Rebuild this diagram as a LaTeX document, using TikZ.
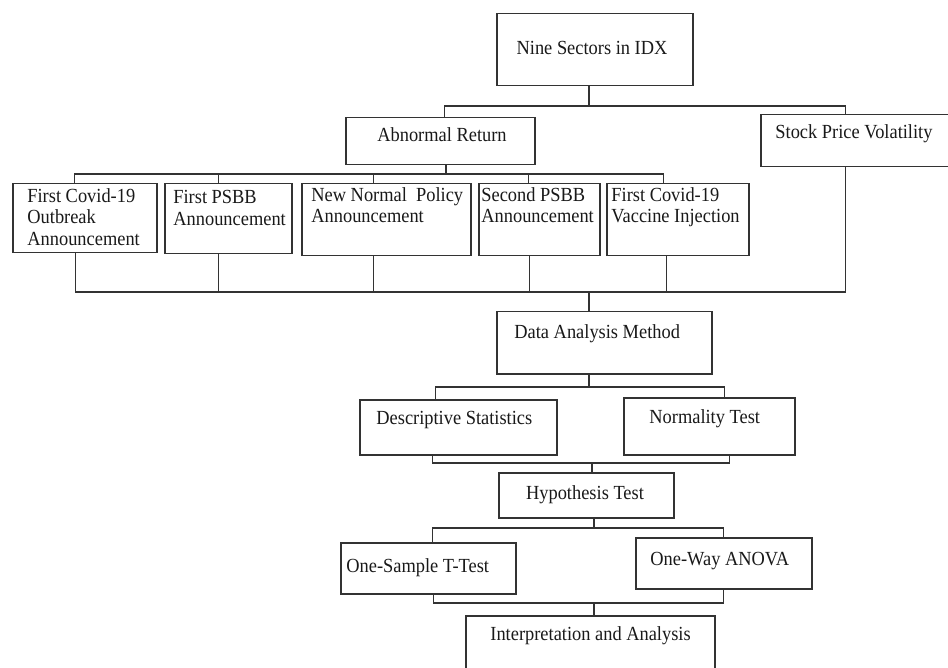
\documentclass[tikz,border=0pt]{standalone}
\usepackage{fontspec}
\setmainfont{Liberation Serif}[FakeStretch=0.92]
\usetikzlibrary{positioning}
\definecolor{boxline}{HTML}{333333}

\begin{document}
\begin{tikzpicture}[x=0.5pt,y=-0.5pt,
  box/.style 2 args={draw=boxline,line width=0.75pt,anchor=north west,inner sep=0pt,minimum width=#1,minimum height=#2},
  link/.style={draw=boxline,line width=0.6pt},
  lbl/.style={inner sep=0pt,font=\fontsize{10pt}{10.75pt}\selectfont,text=black!90,align=left}]
  \clip (0,0) rectangle (948,668);
  % boxes
  \node[box={98pt}{36pt}] (nine) at (496,13) {};
  \node[box={94.5pt}{23.5pt}] (abn) at (345,117) {};
  \node[box={94.5pt}{26pt}] (spv) at (760,114) {};
  \node[box={72pt}{34.5pt}] (b1) at (12,183) {};
  \node[box={63.5pt}{35pt}] (b2) at (164,183) {};
  \node[box={84.5pt}{36pt}] (b3) at (301,183) {};
  \node[box={60.5pt}{36pt}] (b4) at (478,183) {};
  \node[box={71pt}{36pt}] (b5) at (606,183) {};
  \node[box={107.5pt}{31pt}] (dam) at (496,311) {};
  \node[box={98.5pt}{27.5pt}] (des) at (359,399) {};
  \node[box={85.5pt}{28.5pt}] (nor) at (623,397) {};
  \node[box={87.5pt}{22.5pt}] (hyp) at (498,472) {};
  \node[box={87.5pt}{25.5pt}] (ost) at (340,542) {};
  \node[box={88pt}{25.5pt}] (owa) at (635,537) {};
  \node[box={124.5pt}{40pt}] (ina) at (465,615) {};
  % texts
  \node[lbl,anchor=base] (nineT) at (592,55) {Nine Sectors in IDX};
  \node[lbl,anchor=base] (abnT) at (442,142) {Abnormal Return};
  \node[lbl,anchor=base west] (spvT) at (775,139) {Stock Price Volatility};
  \node[lbl,anchor=north west] (b1T) at (27,188) {First Covid-19\\Outbreak\\Announcement};
  \node[lbl,anchor=north west] (b2T) at (173,190) {First PSBB\\Announcement};
  \node[lbl,anchor=north west] (b3T) at (311,187) {New Normal~ Policy\\Announcement};
  \node[lbl,anchor=north west] (b4T) at (481,187) {Second PSBB\\Announcement};
  \node[lbl,anchor=north west] (b5T) at (611,187) {First Covid-19\\Vaccine Injection};
  \node[lbl,anchor=base west] (damT) at (514,339) {Data Analysis Method};
  \node[lbl,anchor=base west] (desT) at (376,424) {Descriptive Statistics};
  \node[lbl,anchor=base west] (norT) at (649,423) {Normality Test};
  \node[lbl,anchor=base] (hypT) at (585,499) {Hypothesis Test};
  \node[lbl,anchor=base west] (ostT) at (346,572) {One-Sample T-Test};
  \node[lbl,anchor=base west] (owaT) at (650,565) {One-Way ANOVA};
  \node[lbl,anchor=base west] (inaT) at (490,640) {Interpretation and Analysis};
  % junctions
  \coordinate (t1) at (589,106);
  \coordinate (t2) at (446,174);
  \coordinate (t3) at (589,292);
  \coordinate (t4) at (589,387);
  \coordinate (t5) at (592,463);
  \coordinate (t6) at (594,528);
  \coordinate (t7) at (594,603);
  % connectors
  \draw[link] (t1 |- nine.south) -- (t1);
  \draw[link] ([xshift=2.25pt]abn.north) |- (t1) -| ([xshift=-4.75pt]spv.north);
  \draw[link] (t2 |- abn.south) -- (t2);
  \foreach \b/\s in {b1/-5pt,b2/-4.75pt,b3/-6.25pt,b4/-5.25pt,b5/-7pt}
    \draw[link] ([xshift=\s]\b.north) |- (t2);
  \foreach \b/\s in {b1/-4.5pt,b2/-4.75pt,b3/-6.25pt,b4/-4.75pt,b5/-5.5pt,spv/-4.75pt}
    \draw[link] ([xshift=\s]\b.south) |- (t3);
  \draw[link] (t3) -- (t3 |- dam.north);
  \draw[link] (t4 |- dam.south) -- (t4);
  \draw[link] ([xshift=-11.25pt]des.north) |- (t4) -| ([xshift=7.75pt]nor.north);
  \draw[link] ([xshift=-12.75pt]des.south) |- (t5) -| ([xshift=10.25pt]nor.south);
  \draw[link] (t5) -- (t5 |- hyp.north);
  \draw[link] (t6 |- hyp.south) -- (t6);
  \draw[link] ([xshift=2.25pt]ost.north) |- (t6) -| (owa.north);
  \draw[link] ([xshift=2.75pt]ost.south) |- (t7) -| (owa.south);
  \draw[link] (t7) -- (t7 |- ina.north);
\end{tikzpicture}
\end{document}
